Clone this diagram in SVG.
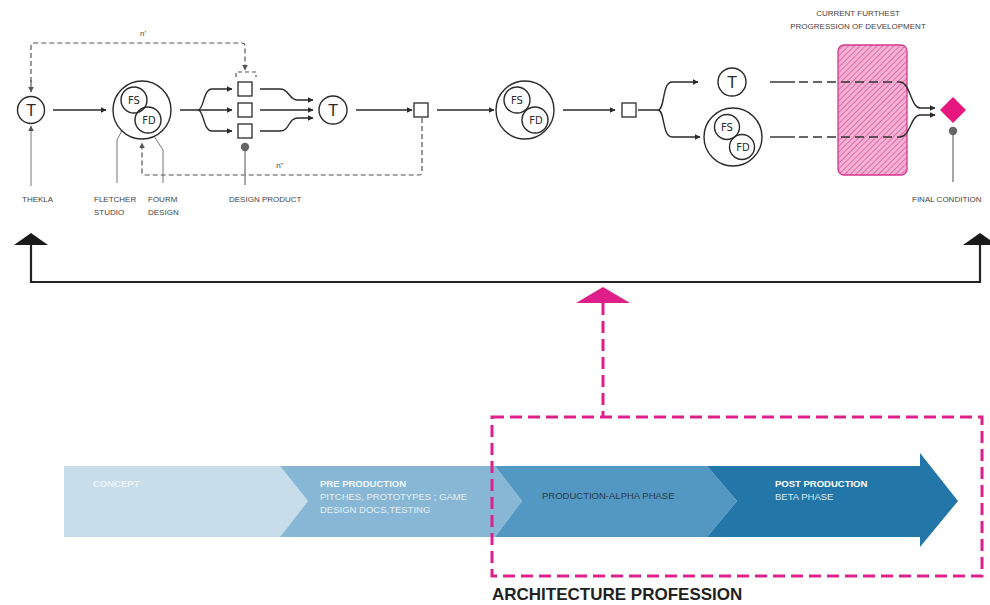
<svg xmlns="http://www.w3.org/2000/svg" width="990" height="605" viewBox="0 0 990 605">
<style>
.ln{fill:none;stroke:#2a2a2a;stroke-width:1.4}
.dash{fill:none;stroke:#555;stroke-width:1.2;stroke-dasharray:5 3}
.thin{fill:none;stroke:#777;stroke-width:1}
.circ{fill:#fff;stroke:#2a2a2a;stroke-width:1.4}
.sub{fill:none;stroke:#2a2a2a;stroke-width:1.4}
.sq{fill:#fff;stroke:#2a2a2a;stroke-width:1.3}
.lbl{font-family:"Liberation Sans",Arial,sans-serif;font-size:8px;fill:#444}
.big{font-family:"DejaVu Sans",sans-serif;font-size:15px;fill:#2a2a2a;text-anchor:middle}
.sm{font-family:"DejaVu Sans",sans-serif;font-size:10px;fill:#2a2a2a;text-anchor:middle}
.band{font-family:"Liberation Sans",Arial,sans-serif;font-size:9.5px}
.pink{fill:none;stroke:#e0208a;stroke-width:3;stroke-dasharray:12 6}
</style>
<defs>
<marker id="ah" viewBox="0 0 10 10" refX="9" refY="5" markerWidth="6" markerHeight="6" orient="auto" markerUnits="userSpaceOnUse">
<path d="M0,0 L10,5 L0,10 z" fill="#2a2a2a"/>
</marker>
<marker id="ahg" viewBox="0 0 10 10" refX="9" refY="5" markerWidth="6" markerHeight="6" orient="auto" markerUnits="userSpaceOnUse">
<path d="M0,0 L10,5 L0,10 z" fill="#555"/>
</marker>
<pattern id="hatch" patternUnits="userSpaceOnUse" width="4" height="4" patternTransform="rotate(45)">
<rect width="4" height="4" fill="#f6b2d5"/>
<line x1="0" y1="0" x2="0" y2="4" stroke="#cf3d8b" stroke-width="1.2"/>
</pattern>
</defs>

<!-- bottom band -->
<g id="band">
<polygon id="concept" points="64,466 280,466 308,501 280,537 64,537" fill="#c7dde9"/>
<polygon id="preprod" points="280,466 495,466 522,501 495,537 280,537 308,501" fill="#87b7d4"/>
<polygon id="prod" points="495,466 707,466 737,501 707,537 495,537 522,501" fill="#5298c2"/>
<polygon id="post" points="707,466 920,466 920,453 958,501 920,547 920,537 707,537 737,501" fill="#2276a8"/>
<text class="band" x="93" y="487" fill="#eef5fa" font-weight="bold">CONCEPT</text>
<text class="band" x="320" y="487" fill="#f2f7fb" font-weight="bold">PRE PRODUCTION</text>
<text class="band" x="320" y="500" fill="#e4eff6">PITCHES, PROTOTYPES ; GAME</text>
<text class="band" x="320" y="513" fill="#e4eff6">DESIGN DOCS,TESTING</text>
<text class="band" x="542" y="499" fill="#2b3a48" font-size="8px">PRODUCTION-ALPHA PHASE</text>
<text class="band" x="775" y="487" fill="#ffffff" font-weight="bold">POST PRODUCTION</text>
<text class="band" x="775" y="500" fill="#dde9f2">BETA PHASE</text>
</g>

<g id="architecture">
<rect class="pink" x="492" y="417" width="490" height="159"/>
<text x="492" y="600" font-family="Liberation Sans,Arial,sans-serif" font-size="17" font-weight="bold" fill="#222">ARCHITECTURE PROFESSION</text>
</g>

<!-- connectors -->
<g id="connectors">
<path d="M31,245 V282 H980 V245" fill="none" stroke="#222" stroke-width="2.2"/>
<polygon points="31,233 48,245 14,245" fill="#1a1a1a"/>
<polygon points="980,233 997,245 963,245" fill="#1a1a1a"/>
<path d="M603,303 V417" fill="none" stroke="#e0208a" stroke-width="3" stroke-dasharray="12 6"/>
<polygon points="603,287 630,303 576,303" fill="#e0208a"/>

<path class="ln" d="M53,110 H106" marker-end="url(#ah)"/>
<path class="ln" d="M180,110 H198 C204,110 203,89 212,89 H232" marker-end="url(#ah)"/>
<path class="ln" d="M198,110 H232" marker-end="url(#ah)"/>
<path class="ln" d="M198,110 C204,110 203,131 212,131 H232" marker-end="url(#ah)"/>
<path class="ln" d="M260,89 H280 C290,89 288,100 298,100 H313" marker-end="url(#ah)"/>
<path class="ln" d="M260,110 H313" marker-end="url(#ah)"/>
<path class="ln" d="M260,131 H280 C290,131 288,118 298,118 H313" marker-end="url(#ah)"/>
<path class="ln" d="M356,110 H412" marker-end="url(#ah)"/>
<path class="ln" d="M437,110 H494" marker-end="url(#ah)"/>
<path class="ln" d="M563,110 H615" marker-end="url(#ah)"/>
<path class="ln" d="M638,110 H658 C665,110 662,82 672,82 H698" marker-end="url(#ah)"/>
<path class="ln" d="M658,110 C665,110 662,137 672,137 H700" marker-end="url(#ah)"/>

<path class="dash" d="M31,90 V46 Q31,43 34,43 H242 Q245,43 245,46 V70" marker-end="url(#ahg)"/>
<path class="dash" d="M31,80 V92" marker-end="url(#ahg)"/>
<path d="M236,77 V72 H256 V77" fill="none" stroke="#555" stroke-width="1.2" stroke-dasharray="4 3"/>
<text class="lbl" x="143" y="36" text-anchor="middle">n'</text>
<path class="dash" d="M422,118 V172 Q422,175 419,175 H145 Q142,175 142,172 V143" marker-end="url(#ahg)"/>
<text class="lbl" x="280" y="168" text-anchor="middle">n"</text>

<path class="thin" d="M31,186 V126" marker-end="url(#ahg)"/>
<path class="thin" d="M117,183 V140 L128,119"/>
<path class="thin" d="M163,183 V150 L154,136"/>
<path d="M245,151 V185" stroke="#777" stroke-width="1.3" fill="none"/>
<circle cx="245" cy="147" r="4.2" fill="#666"/>
<path d="M953,135 V182" stroke="#777" stroke-width="1.3" fill="none"/>
<circle cx="953" cy="131" r="4.2" fill="#666"/>
</g>

<g id="progression">
<rect x="838" y="45" width="69" height="130" rx="6" fill="url(#hatch)" stroke="#d8368f" stroke-width="1.3"/>
<text class="lbl" x="858" y="16" text-anchor="middle">CURRENT FURTHEST</text>
<text class="lbl" x="858" y="29" text-anchor="middle">PROGRESSION OF DEVELOPMENT</text>
</g>
<g id="tracks">
<path class="ln" d="M770,82 H795"/>
<path d="M799,82 H900" fill="none" stroke="#333" stroke-width="1.4" stroke-dasharray="9 5"/>
<path class="ln" d="M900,82 C910,82 911,108 920,108 H935" marker-end="url(#ah)"/>
<path class="ln" d="M770,137 H795"/>
<path d="M799,137 H900" fill="none" stroke="#333" stroke-width="1.4" stroke-dasharray="9 5"/>
<path class="ln" d="M900,137 C910,137 911,115 920,115 H935" marker-end="url(#ah)"/>
</g>

<g id="thekla">
<circle class="circ" cx="31" cy="110" r="13.5"/>
<text class="big" x="31" y="115.5">T</text>
<text class="lbl" x="22" y="202">THEKLA</text>
</g>
<g id="studio1">
<circle class="circ" cx="142" cy="110" r="29"/>
<circle class="sub" cx="134" cy="100" r="13"/>
<circle class="sub" cx="148" cy="120" r="13"/>
<text class="sm" x="134" y="104">FS</text>
<text class="sm" x="149" y="124">FD</text>
<text class="lbl" x="94" y="202">FLETCHER</text>
<text class="lbl" x="94" y="215">STUDIO</text>
<text class="lbl" x="148" y="202">FOURM</text>
<text class="lbl" x="148" y="215">DESIGN</text>
</g>
<g id="products">
<rect class="sq" x="238" y="82" width="14" height="14"/>
<rect class="sq" x="238" y="103" width="14" height="14"/>
<rect class="sq" x="238" y="124" width="14" height="14"/>
<text class="lbl" x="229" y="202">DESIGN PRODUCT</text>
</g>
<g id="thekla2">
<circle class="circ" cx="333" cy="110" r="14"/>
<text class="big" x="333" y="115.5">T</text>
</g>
<g id="product2">
<rect class="sq" x="414" y="103" width="14" height="14"/>
</g>
<g id="studio2">
<circle class="circ" cx="525" cy="110" r="29"/>
<circle class="sub" cx="517" cy="100" r="13"/>
<circle class="sub" cx="535" cy="120" r="13"/>
<text class="sm" x="517" y="104">FS</text>
<text class="sm" x="536" y="124">FD</text>
</g>
<g id="product3">
<rect class="sq" x="622" y="103" width="14" height="14"/>
</g>
<g id="thekla3">
<circle class="circ" cx="732" cy="82" r="14"/>
<text class="big" x="732" y="87.5">T</text>
</g>
<g id="studio3">
<circle class="circ" cx="733" cy="137" r="29"/>
<circle class="sub" cx="727" cy="127" r="12.5"/>
<circle class="sub" cx="742" cy="147" r="12.5"/>
<text class="sm" x="727" y="131">FS</text>
<text class="sm" x="743" y="151">FD</text>
</g>
<g id="final">
<polygon points="953,97 966,110 953,123 940,110" fill="#e6187f"/>
<text class="lbl" x="912" y="202">FINAL CONDITION</text>
</g>
</svg>
